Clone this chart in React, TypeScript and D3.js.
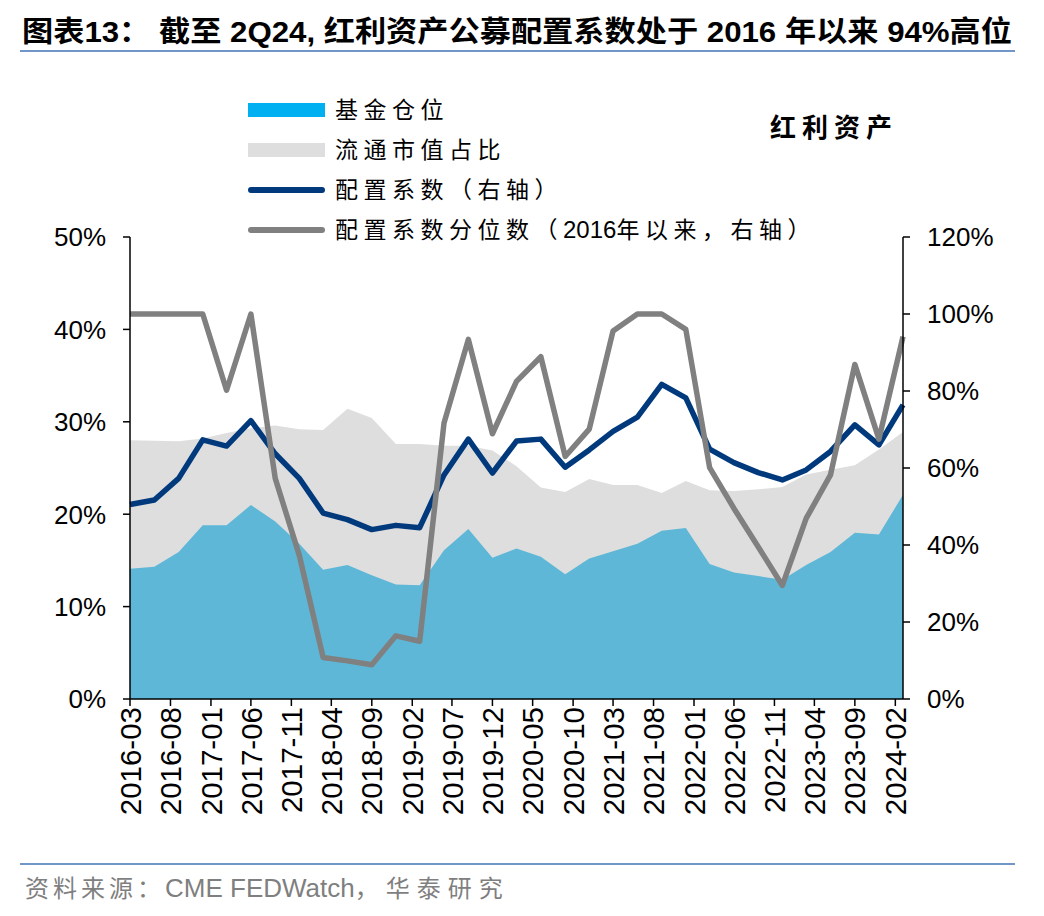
import React from "react";
import * as d3 from "d3";

// ---- data ----
const quarters: string[] = [
  "2016-03", "2016-06", "2016-09", "2016-12",
  "2017-03", "2017-06", "2017-09", "2017-12",
  "2018-03", "2018-06", "2018-09", "2018-12",
  "2019-03", "2019-06", "2019-09", "2019-12",
  "2020-03", "2020-06", "2020-09", "2020-12",
  "2021-03", "2021-06", "2021-09", "2021-12",
  "2022-03", "2022-06", "2022-09", "2022-12",
  "2023-03", "2023-06", "2023-09", "2023-12",
  "2024-03",
];

// 基金仓位 (%), left axis
const fundPosition: number[] = [
  14.1, 14.3, 15.9, 18.8, 18.8, 21.0, 19.2, 16.8, 14.0, 14.5, 13.4, 12.4, 12.3,
  16.1, 18.4, 15.3, 16.3, 15.4, 13.5, 15.2, 16.0, 16.8, 18.2, 18.5, 14.6, 13.7,
  13.3, 12.9, 14.5, 15.9, 18.0, 17.8, 22.1,
];

// 流通市值占比 (%), left axis
const marketCapShare: number[] = [
  28.0, 27.95, 27.9, 28.2, 28.8, 29.3, 29.6, 29.2, 29.1, 31.4, 30.4, 27.6, 27.6,
  27.4, 27.4, 26.9, 25.2, 22.9, 22.4, 23.8, 23.15, 23.15, 22.3, 23.6, 22.6, 22.5,
  22.7, 22.95, 24.3, 24.8, 25.3, 27.0, 28.9,
];

// 配置系数 (%), right axis
const allocationCoef: number[] = [
  50.5, 51.7, 57.3, 67.3, 65.7, 72.3, 63.7, 57.3, 48.3, 46.6, 44.0, 45.1, 44.5,
  58.2, 67.5, 58.7, 67.0, 67.5, 60.2, 64.7, 69.5, 73.2, 81.7, 78.2, 64.9, 61.4,
  58.8, 56.9, 59.5, 64.3, 71.2, 66.0, 76.4,
];

// 配置系数分位数 (%), right axis
const coefPercentile: number[] = [
  100, 100, 100, 100, 80.2, 100, 57.3, 37.3, 10.8, 9.9, 8.9, 16.4, 15.0,
  71.7, 93.4, 68.9, 82.5, 88.9, 63.0, 70.1, 95.6, 100, 100, 96.0, 60.1, 49.5,
  39.5, 29.5, 46.9, 58.2, 86.9, 67.5, 94.1,
];

const xTickLabels: string[] = [
  "2016-03", "2016-08", "2017-01", "2017-06", "2017-11", "2018-04", "2018-09",
  "2019-02", "2019-07", "2019-12", "2020-05", "2020-10", "2021-03", "2021-08",
  "2022-01", "2022-06", "2022-11", "2023-04", "2023-09", "2024-02",
];

const leftTicks: number[] = [0, 10, 20, 30, 40, 50];
const rightTicks: number[] = [0, 20, 40, 60, 80, 100, 120];

// legend label pieces: [text, isLatin]
const legendItems: { parts: [string, boolean][]; kind: string; color: string }[] = [
  { parts: [["基金仓位", false]], kind: "rect", color: "#00B0F0" },
  { parts: [["流通市值占比", false]], kind: "rect", color: "#DEDEDE" },
  { parts: [["配置系数（右轴）", false]], kind: "line", color: "#003A7D" },
  {
    parts: [
      ["配置系数分位数（", false],
      ["2016", true],
      ["年以来，右轴）", false],
    ],
    kind: "line",
    color: "#808080",
  },
];

const parseMonth = d3.utcParse("%Y-%m");

export default function App() {
  const W = 1044;
  const H = 916;
  const left = 130;
  const right = 903;
  const top = 237;
  const bottom = 699;

  const x = d3
    .scaleUtc()
    .domain([parseMonth("2016-03")!, parseMonth("2024-03")!])
    .range([left, right]);
  const yL = d3.scaleLinear().domain([0, 50]).range([bottom, top]);
  const yR = d3.scaleLinear().domain([0, 120]).range([bottom, top]);

  const dates = quarters.map((q) => parseMonth(q)!);

  const areaGen = (vals: number[]) =>
    d3
      .area<number>()
      .x((_, i) => x(dates[i]))
      .y0(yL(0))
      .y1((d) => yL(d))(vals) || "";
  const lineGen = (vals: number[]) =>
    d3
      .line<number>()
      .x((_, i) => x(dates[i]))
      .y((d) => yR(d))(vals) || "";

  const sans = "'Liberation Sans', Arial, 'Noto Sans CJK SC', sans-serif";
  const cjk = "'Noto Sans CJK SC', 'Liberation Sans', sans-serif";
  const mixed = "'Liberation Sans', 'Noto Sans CJK SC', sans-serif";

  return (
    <svg
      width={W}
      height={H}
      style={{ position: "absolute", left: 0, top: 0, background: "#fff" }}
      xmlns="http://www.w3.org/2000/svg"
    >
      <rect x={0} y={0} width={W} height={H} fill="#fff" />
      {/* Title */}
      <text
        x={22}
        y={42}
        fontFamily={mixed}
        fontWeight="bold"
        fontSize={29}
        fill="#000"
        textLength={990}
        lengthAdjust="spacingAndGlyphs"
      >
        图表13： 截至 2Q24, 红利资产公募配置系数处于 2016 年以来 94%高位
      </text>
      <line x1={20} x2={1015} y1={51} y2={51} stroke="#7396C8" strokeWidth={2} />

      {/* Areas */}
      <path d={areaGen(marketCapShare)} fill="#DEDEDE" />
      <path d={areaGen(fundPosition)} fill="#5EB7D7" />

      {/* Lines */}
      <path
        d={lineGen(allocationCoef)}
        fill="none"
        stroke="#003A7D"
        strokeWidth={5.5}
        strokeLinejoin="round"
      />
      <path
        d={lineGen(coefPercentile)}
        fill="none"
        stroke="#808080"
        strokeWidth={5.5}
        strokeLinejoin="round"
      />

      {/* Left axis */}
      <line x1={left} x2={left} y1={top} y2={bottom} stroke="#000" strokeWidth={1.5} />
      {leftTicks.map((t) => (
        <g key={"l" + t}>
          <line x1={left - 7} x2={left} y1={yL(t)} y2={yL(t)} stroke="#000" strokeWidth={1.5} />
          <text
            x={106}
            y={yL(t)}
            dy="0.36em"
            textAnchor="end"
            fontFamily={sans}
            fontSize={26}
            fill="#000"
          >
            {t}%
          </text>
        </g>
      ))}

      {/* Right axis */}
      <line x1={right} x2={right} y1={top} y2={bottom} stroke="#000" strokeWidth={1.5} />
      {rightTicks.map((t) => (
        <g key={"r" + t}>
          <line x1={right} x2={right + 7} y1={yR(t)} y2={yR(t)} stroke="#000" strokeWidth={1.5} />
          <text
            x={927}
            y={yR(t)}
            dy="0.36em"
            textAnchor="start"
            fontFamily={sans}
            fontSize={26}
            fill="#000"
          >
            {t}%
          </text>
        </g>
      ))}

      {/* Bottom axis */}
      <line x1={left} x2={right} y1={bottom} y2={bottom} stroke="#000" strokeWidth={1.5} />
      {xTickLabels.map((lab) => {
        const xx = x(parseMonth(lab)!);
        return (
          <g key={lab}>
            <line x1={xx} x2={xx} y1={bottom} y2={bottom + 7} stroke="#000" strokeWidth={1.5} />
            <text
              transform={`translate(${xx},${bottom + 8}) rotate(-90)`}
              dy="0.36em"
              textAnchor="end"
              fontFamily={sans}
              fontSize={29.5}
              fill="#000"
            >
              {lab}
            </text>
          </g>
        );
      })}

      {/* Legend */}
      {legendItems.map((it, i) => {
        const cy = 110 + i * 40;
        return (
          <g key={i}>
            {it.kind === "rect" ? (
              <rect x={248} y={cy - 7} width={77} height={14} fill={it.color} />
            ) : (
              <line
                x1={251}
                x2={322}
                y1={cy}
                y2={cy}
                stroke={it.color}
                strokeWidth={6}
                strokeLinecap="round"
              />
            )}
            <text x={335} y={cy} dy="0.36em" fontFamily={cjk} fontSize={23} fill="#000">
              {it.parts.map(([s, latin], j) => (
                <tspan
                  key={j}
                  fontFamily={latin ? sans : cjk}
                  letterSpacing={latin ? 0 : 5.5}
                  fontSize={latin ? 24 : 23}
                >
                  {s}
                </tspan>
              ))}
            </text>
          </g>
        );
      })}

      {/* Series label */}
      <text
        x={770}
        y={128}
        dy="0.36em"
        fontFamily={cjk}
        fontWeight="bold"
        fontSize={26}
        letterSpacing={6}
        fill="#000"
      >
        红利资产
      </text>

      {/* Footer */}
      <line x1={20} x2={1015} y1={864} y2={864} stroke="#7396C8" strokeWidth={2} />
      <text x={25} y={897} fontFamily={cjk} fontSize={24} fill="#7F7F7F">
        <tspan letterSpacing={4}>资料来源：</tspan>
        <tspan fontFamily={sans} fontSize={26}>CME FEDWatch</tspan>
        <tspan letterSpacing={7}>，华泰研究</tspan>
      </text>
    </svg>
  );
}
